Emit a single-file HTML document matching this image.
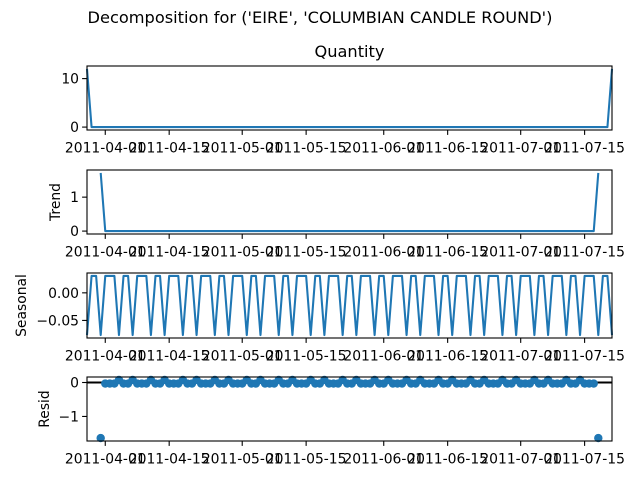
<!DOCTYPE html>
<html><head><meta charset="utf-8">
<style>
html,body{margin:0;padding:0;background:#fff;}
svg{display:block;font-family:"DejaVu Sans","Liberation Sans",sans-serif;}
</style></head>
<body>
<svg id="chart" width="640" height="480" viewBox="0 0 640 480" xmlns="http://www.w3.org/2000/svg">
<text x="320" y="23" font-size="16.2" text-anchor="middle">Decomposition for ('EIRE', 'COLUMBIAN CANDLE ROUND')</text>
</svg>
<script>
// Data (daily, starting 2011-03-28)
const startDate = "2011-03-28";
const observed = [12,0,0,0,0,0,0,0,0,0,0,0,0,0,0,0,0,0,0,0,0,0,0,0,0,0,0,0,0,0,0,0,0,0,0,0,0,0,0,0,0,0,0,0,0,0,0,0,0,0,0,0,0,0,0,0,0,0,0,0,0,0,0,0,0,0,0,0,0,0,0,0,0,0,0,0,0,0,0,0,0,0,0,0,0,0,0,0,0,0,0,0,0,0,0,0,0,0,0,0,0,0,0,0,0,0,0,0,0,0,0,0,0,0,0,12];
const trend = [null,null,null,1.714,0,0,0,0,0,0,0,0,0,0,0,0,0,0,0,0,0,0,0,0,0,0,0,0,0,0,0,0,0,0,0,0,0,0,0,0,0,0,0,0,0,0,0,0,0,0,0,0,0,0,0,0,0,0,0,0,0,0,0,0,0,0,0,0,0,0,0,0,0,0,0,0,0,0,0,0,0,0,0,0,0,0,0,0,0,0,0,0,0,0,0,0,0,0,0,0,0,0,0,0,0,0,0,0,0,0,0,0,1.714,null,null,null];
const seasonalPattern = [-0.0765,0.0306,0.0306,-0.0765,0.0306,0.0306,0.0306];
const xTickLabels = ["2011-04-01","2011-04-15","2011-05-01","2011-05-15","2011-06-01","2011-06-15","2011-07-01","2011-07-15"];
const obsTicks = [0,10];
const trendTicks = [0,1];
const seasTicks = [0,-0.05];
const residTicks = [0,-1];

const NS="http://www.w3.org/2000/svg";
const svg=document.getElementById('chart');
const C="#1f77b4";
const N=observed.length;
const seasonal=observed.map((_,i)=>seasonalPattern[i%7]);
const resid=observed.map((v,i)=>trend[i]===null?null:v-trend[i]-seasonal[i]);
const X0=87,X1=612;
const t0=Date.parse(startDate+"T00:00:00Z");
const DAY=86400000;
const FS=13.9;
function xs(day){return X0+(X1-X0)*day/(N-1);}
function dayOf(s){return (Date.parse(s+"T00:00:00Z")-t0)/DAY;}
function el(tag,attrs,parent){const e=document.createElementNS(NS,tag);for(const k in attrs)e.setAttribute(k,attrs[k]);(parent||svg).appendChild(e);return e;}
function ext(arr){const v=arr.filter(a=>a!==null);let lo=Math.min(...v),hi=Math.max(...v);const p=(hi-lo)*0.05;return [lo-p,hi+p];}
function fmt(v,d){return (v<0?"\u2212":"")+Math.abs(v).toFixed(d);}

function panel(name,top,bottom,series,ticks,dec,ylabel,ylabelX,kind){
  const g=el('g',{});
  
  
  const [lo,hi]=ext(series);
  const ys=v=>bottom-(v-lo)/(hi-lo)*(bottom-top);
  if(kind==='line'){
    let d="";let pen=false;
    series.forEach((v,i)=>{if(v===null){pen=false;return;}d+=(pen?"L":"M")+xs(i).toFixed(2)+","+ys(v).toFixed(2);pen=true;});
    const p=el('path',{d:d,fill:'none',stroke:C,'stroke-width':2.08,'stroke-linejoin':'round'},g);
    
    
  } else {
    const z=el('line',{x1:X0,x2:X1,y1:ys(0),y2:ys(0),stroke:'#000','stroke-width':2.08},g);
    
    
    series.forEach((v,i)=>{if(v===null)return;
      const c=el('circle',{cx:xs(i),cy:ys(v),r:4.2,fill:C},g);
      
      
    });
  }
  const fr=el('rect',{x:X0,y:top,width:X1-X0,height:bottom-top,fill:'none',stroke:'#000','stroke-width':1.1},g);
  
  
  ticks.forEach(t=>{const y=ys(t);
    el('line',{x1:X0-4.9,x2:X0,y1:y,y2:y,stroke:'#000','stroke-width':1.1},g);
    const tx=el('text',{x:X0-8,y:y+5,'font-size':FS,'text-anchor':'end'},g);
    tx.textContent=fmt(t,dec);
    
    
  });
  xTickLabels.forEach(s=>{const x=xs(dayOf(s));
    el('line',{x1:x,x2:x,y1:bottom,y2:bottom+4.9,stroke:'#000','stroke-width':1.1},g);
    const tx=el('text',{x:x,y:bottom+22.5,'font-size':FS,'text-anchor':'middle'},g);
    tx.textContent=s;
    
    
  });
  if(ylabel){const cy=(top+bottom)/2;
    const tx=el('text',{x:ylabelX,y:cy,'font-size':FS,'text-anchor':'middle',transform:'rotate(-90 '+ylabelX+' '+cy+')'},g);
    tx.textContent=ylabel;
    
    
  }
}
panel('observed',66,130,observed,obsTicks,0,null,0,'line');
panel('trend',170,234,trend,trendTicks,0,'Trend',60,'line');
panel('seasonal',273,338,seasonal,seasTicks,2,'Seasonal',26,'line');
panel('resid',377,441,resid,residTicks,0,'Resid',49,'scatter');
const qt=el('text',{x:349.5,y:57,'font-size':16.2,'text-anchor':'middle'});
qt.textContent='Quantity';


</script>
</body></html>
